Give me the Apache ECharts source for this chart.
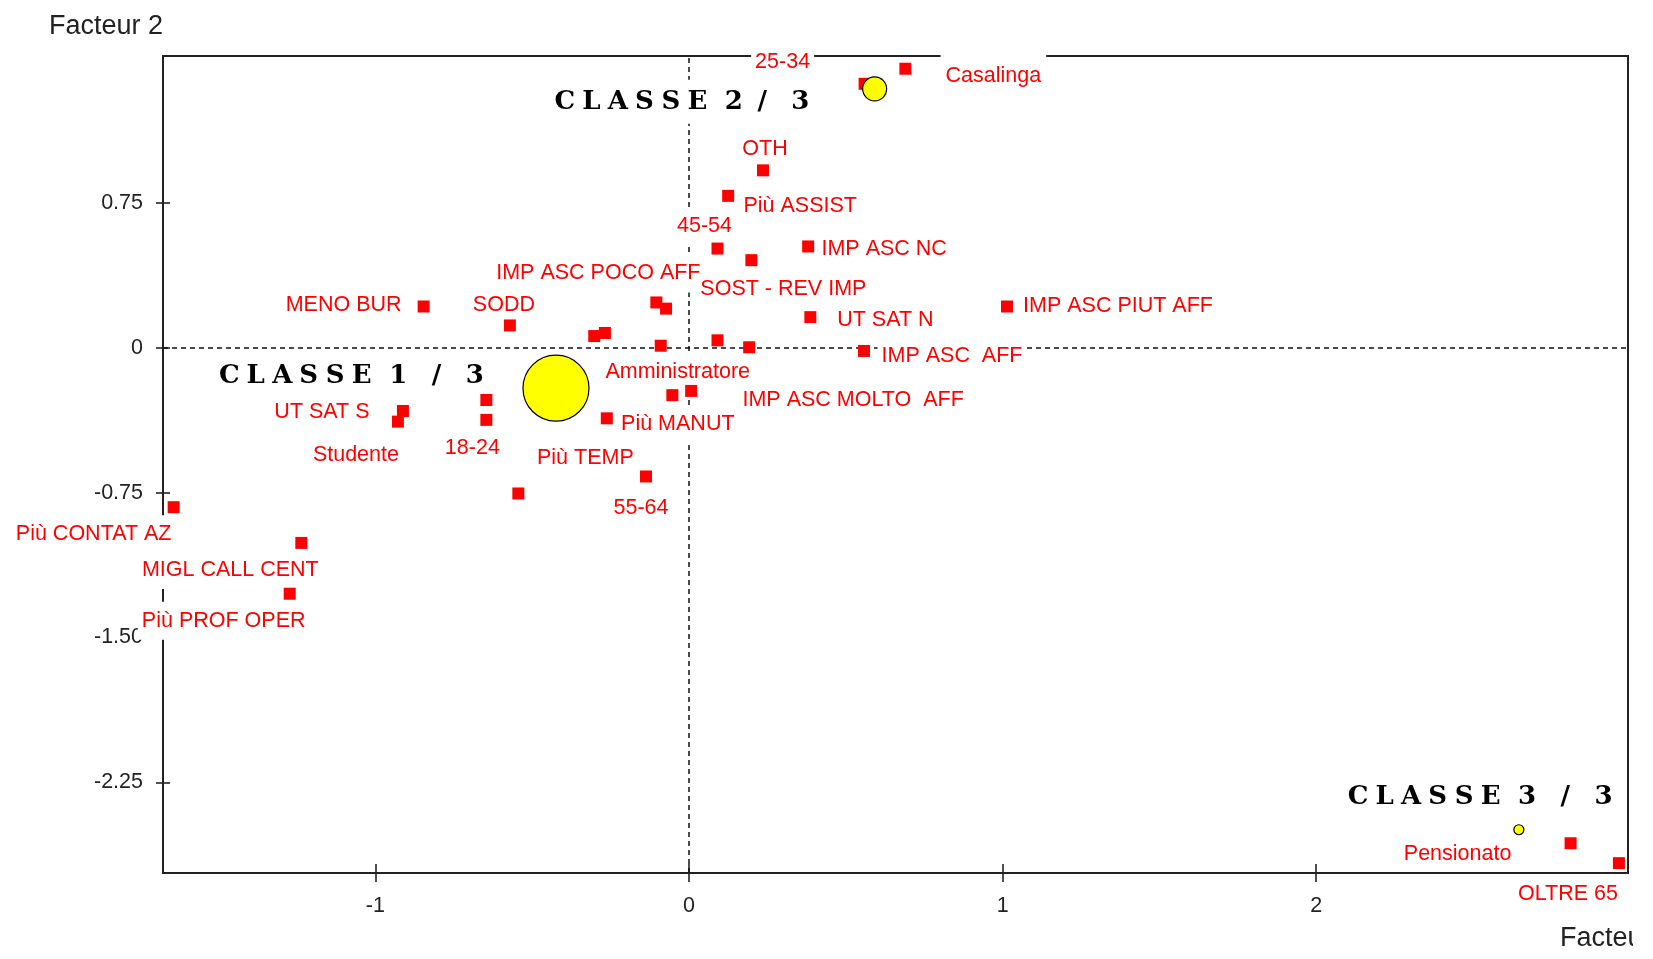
<!DOCTYPE html>
<html>
<head>
<meta charset="utf-8">
<script src="https://cdn.jsdelivr.net/npm/echarts@6/dist/echarts.min.js"></script>
<style>
html,body{margin:0;padding:0;background:#fff;}
#chart{width:1653px;height:959px;}
</style>
</head>
<body>
<div id="chart"></div>
<script>
// ---------------- DATA ----------------
const pointLabels = [
  '25-34', 'Casalinga', 'OTH', 'Più ASSIST', '45-54', 'IMP ASC NC',
  'IMP ASC POCO AFF', '', 'SOST - REV IMP', 'UT SAT N', 'IMP ASC PIUT AFF',
  'MENO BUR', 'SODD', '', '', 'Amministratore', '', '', 'IMP ASC  AFF',
  'IMP ASC MOLTO  AFF', '', 'Più MANUT', '55-64', 'Più TEMP', '', '18-24',
  'UT SAT S', 'Studente', 'Più CONTAT AZ', 'MIGL CALL CENT', 'Più PROF OPER',
  'Pensionato', 'OLTRE 65'
];
const factor1 = [
  0.560, 0.690, 0.236, 0.125, 0.091, 0.380,
  -0.104, -0.073, 0.199, 0.387, 1.014,
  -0.846, -0.571, -0.302, -0.268, -0.090, 0.091, 0.192, 0.558,
  0.007, -0.053, -0.262, -0.137, -0.544, -0.646, -0.646,
  -0.912, -0.928, -1.643, -1.236, -1.273,
  2.811, 2.965
];
const factor2 = [
  1.367, 1.445, 0.919, 0.787, 0.514, 0.525,
  0.235, 0.203, 0.454, 0.159, 0.214,
  0.214, 0.116, 0.061, 0.077, 0.011, 0.039, 0.003, -0.016,
  -0.223, -0.245, -0.365, -0.666, -0.754, -0.270, -0.373,
  -0.327, -0.382, -0.825, -1.010, -1.273,
  -2.565, -2.668
];
const classLabels = ['CLASSE 1 / 3', 'CLASSE 2/ 3', 'CLASSE 3 / 3'];
const classFactor1 = [-0.424, 0.592, 2.646];
const classFactor2 = [-0.209, 1.341, -2.495];
const xTickValues = [-1, 0, 1, 2];
const xTickLabels = ['-1', '0', '1', '2'];
const yTickValues = [0.75, 0, -0.75, -1.5, -2.25];
const yTickLabels = ['0.75', '0', '-0.75', '-1.50', '-2.25'];
const axisTitleX = 'Facteur 1';
const axisTitleY = 'Facteur 2';

// ---------------- LAYOUT / STYLE ----------------
const X_MIN = -1.677, X_MAX = 2.994, Y_MIN = -2.719, Y_MAX = 1.511;
const labelOffsets = [
  [-82, -22], [88, 7], [2, -21], [72, 10], [-13, -22], [76, 3],
  [-58, -29], null, [32, 29], [75, 3], [111, 0],
  [-80, -1], [-6, -20], null, null, [17, 26], null, null, [88, 5],
  [162, 9], null, [71, 6], [-5, 32], [67, -35], null, [-14, 28],
  [-81, 1], [-42, 33], [-80, 27], [-71, 27], [-66, 27],
  [-113, 11], [-51, 31]
];
const labelPaddingSpecial = {
  1: [12, 5, 8, 5],
  8: [2, 4, 2, 4],
  31: [8, 4, 4, 4],
  32: [2, 4, 3, 4]
};
const classSymbolSizes = [66, 24, 10];
const classLabelOffsets = [[-204, -12], [-192, 13], [-38, -32]];

const RED = '#FF0000';
const INK = '#222';
const SANS = "'Liberation Sans', Arial, sans-serif";
const SERIF = "'DejaVu Serif', 'Liberation Serif', serif";

function tickFormatter(values, labels) {
  return function (v) {
    const i = values.findIndex(t => Math.abs(t - v) < 1e-9);
    return i >= 0 ? labels[i] : '';
  };
}
function spaced(s) {
  return s.split('').map(ch =>
    ch === ' ' ? '{s|\u00a0}' : (ch === '/' ? '{k|/}' : '{c|' + ch + '}')
  ).join('');
}

const tickLine = { color: INK, width: 1.6 };

const squareData = factor1.map((x, i) => [x, factor2[i]]);
const labelData = [];
pointLabels.forEach((txt, i) => {
  if (!txt) return;
  const off = labelOffsets[i] || [0, 0];
  labelData.push({
    name: txt,
    value: [factor1[i], factor2[i]],
    label: { offset: off, padding: labelPaddingSpecial[i] || [8, 4] }
  });
});
const classData = classLabels.map((n, i) => ({
  name: n,
  value: [classFactor1[i], classFactor2[i]],
  symbolSize: classSymbolSizes[i]
}));
const classLabelData = classLabels.map((n, i) => ({
  name: n,
  value: [classFactor1[i], classFactor2[i]],
  label: { offset: classLabelOffsets[i] }
}));

const classFont = { fontFamily: SERIF, fontWeight: 'bold', fontSize: 26, color: '#000', lineHeight: 28 };

const chart = echarts.init(document.getElementById('chart'), null, { renderer: 'canvas' });
chart.setOption({
  animation: false,
  backgroundColor: '#fff',
  grid: {
    left: 163, top: 56, right: 25, bottom: 86,
    show: true, borderColor: INK, borderWidth: 2, backgroundColor: 'transparent'
  },
  xAxis: [
    {
      type: 'value', position: 'bottom', min: X_MIN, max: X_MAX,
      axisLine: { show: true, onZero: false, lineStyle: { color: INK, width: 2 } },
      axisTick: { show: true, inside: false, length: 9, customValues: xTickValues, lineStyle: tickLine },
      axisLabel: {
        customValues: xTickValues, formatter: tickFormatter(xTickValues, xTickLabels),
        margin: 22, fontSize: 21.5, color: INK, fontFamily: SANS
      },
      splitLine: { show: false }
    },
    {
      type: 'value', position: 'bottom', min: X_MIN, max: X_MAX,
      axisLine: { show: false, onZero: false },
      axisTick: { show: true, inside: true, length: 9, customValues: xTickValues, lineStyle: tickLine },
      axisLabel: { show: false },
      splitLine: { show: false }
    }
  ],
  yAxis: [
    {
      type: 'value', position: 'left', min: Y_MIN, max: Y_MAX,
      axisLine: { show: true, onZero: false, lineStyle: { color: INK, width: 2 } },
      axisTick: { show: true, inside: false, length: 7, customValues: yTickValues, lineStyle: tickLine },
      axisLabel: {
        customValues: yTickValues, formatter: tickFormatter(yTickValues, yTickLabels),
        margin: 20, fontSize: 21.5, color: INK, fontFamily: SANS
      },
      splitLine: { show: false }
    },
    {
      type: 'value', position: 'left', min: Y_MIN, max: Y_MAX,
      axisLine: { show: false, onZero: false },
      axisTick: { show: true, inside: true, length: 7, customValues: yTickValues, lineStyle: tickLine },
      axisLabel: { show: false },
      splitLine: { show: false }
    }
  ],
  graphic: [
    {
      type: 'text', x: 49, y: 27, z: 50,
      style: { text: axisTitleY, font: '27px ' + SANS, fill: INK, align: 'left', verticalAlign: 'middle' }
    },
    {
      type: 'text', x: 1560, y: 939, z: 50,
      style: { text: axisTitleX, font: '27px ' + SANS, fill: INK, align: 'left', verticalAlign: 'middle' }
    },
    {
      type: 'rect', z: 60,
      shape: { x: 1633, y: 880, width: 20, height: 79 },
      style: { fill: '#fff' }
    }
  ],
  series: [
    {
      name: 'axes0', type: 'scatter', z: 1, silent: true, data: [],
      markLine: {
        z: 1, silent: true, symbol: 'none', animation: false,
        label: { show: false },
        lineStyle: { type: [5, 4], color: '#111', width: 1.5 },
        emphasis: { disabled: true },
        data: [{ xAxis: 0 }, { yAxis: 0 }]
      }
    },
    {
      name: 'labels', type: 'scatter', z: 2, silent: true,
      symbolSize: 1, itemStyle: { color: 'rgba(0,0,0,0)', opacity: 1 },
      data: labelData,
      label: {
        show: true, position: 'inside', align: 'center', verticalAlign: 'middle',
        formatter: '{b}', color: RED, fontSize: 21.5, lineHeight: 22,
        fontFamily: SANS, backgroundColor: '#fff'
      }
    },
    {
      name: 'classLabels', type: 'scatter', z: 2, silent: true,
      symbolSize: 1, itemStyle: { color: 'rgba(0,0,0,0)', opacity: 1 },
      data: classLabelData,
      label: {
        show: true, position: 'inside', align: 'center', verticalAlign: 'middle',
        formatter: p => spaced(p.name),
        backgroundColor: '#fff', padding: [8, 4],
        rich: {
          c: Object.assign({ width: 26.5, align: 'center' }, classFont),
          k: Object.assign({ width: 30, align: 'center' }, classFont),
          s: Object.assign({ width: 10 }, classFont)
        }
      }
    },
    {
      name: 'modalites', type: 'scatter', z: 3, silent: true,
      symbol: 'rect', symbolSize: 12,
      itemStyle: { color: RED, opacity: 1 },
      data: squareData
    },
    {
      name: 'classes', type: 'scatter', z: 3, silent: true,
      symbol: 'circle',
      itemStyle: { color: '#FFFF00', borderColor: '#000', borderWidth: 1.2, opacity: 1 },
      data: classData
    }
  ]
});
</script>
</body>
</html>
